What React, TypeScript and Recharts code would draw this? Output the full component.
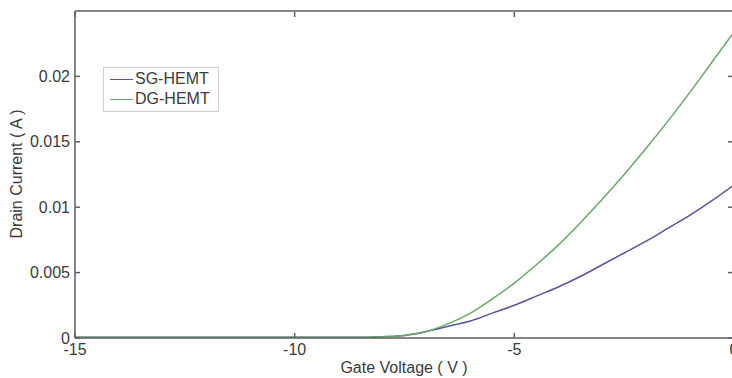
import React from "react";
import { LineChart, Line, XAxis, YAxis, Label, ReferenceLine } from "recharts";

const FONT = "'Liberation Sans', Arial, sans-serif";
const AXIS = "#5e5e5e";
const TEXT = "#3a3a3a";
const SG_COLOR = "#55559f";
const DG_COLOR = "#66a866";

// gate voltage (V)
const VG = [
  -15, -14.5, -14, -13.5, -13, -12.5, -12, -11.5, -11, -10.5, -10, -9.5, -9, -8.5,
  -8, -7.5, -7, -6.5, -6, -5.5, -5, -4.5, -4, -3.5, -3, -2.5, -2, -1.5, -1, -0.5, 0,
];
// drain current (A)
const SG = [
  0.00005, 0.00005, 0.00005, 0.00005, 0.00005, 0.00005, 0.00005, 0.00005, 0.00005, 0.00005,
  0.00005, 0.00005, 0.00005, 0.00005,
  0.0001, 0.0002, 0.0005, 0.0009, 0.0013, 0.0019, 0.0025, 0.0032, 0.0039, 0.0047, 0.0056,
  0.0065, 0.0074, 0.0084, 0.0094, 0.0105, 0.0117,
];
const DG = [
  0.00005, 0.00005, 0.00005, 0.00005, 0.00005, 0.00005, 0.00005, 0.00005, 0.00005, 0.00005,
  0.00005, 0.00005, 0.00005, 0.00005,
  0.0001, 0.0002, 0.0005, 0.0011, 0.0019, 0.003, 0.0042, 0.0056, 0.0071, 0.0088, 0.0106,
  0.0125, 0.0145, 0.0166, 0.0188, 0.0211, 0.0234,
];
const X_TICKS = [-15, -10, -5, 0];
const Y_TICKS = [0, 0.005, 0.01, 0.015, 0.02];
const Y_MAX = 0.025;
const SERIES = [
  { key: "sg", name: "SG-HEMT", color: SG_COLOR },
  { key: "dg", name: "DG-HEMT", color: DG_COLOR },
];

const data = VG.map((v, i) => ({ vg: v, sg: SG[i], dg: DG[i] }));

const BottomTick = (props: any) => {
  const { x, y, payload } = props;
  return (
    <g>
      <line x1={x} x2={x} y1={y - 6} y2={y - 11} stroke={AXIS} strokeWidth={1.5} />
      <text x={x} y={y} dy="0.71em" textAnchor="middle" fill={TEXT} fontSize={16} fontFamily={FONT}>
        {payload.value}
      </text>
    </g>
  );
};

const LeftTick = (props: any) => {
  const { x, y, payload } = props;
  return (
    <g>
      <line x1={x + 5} x2={x + 10} y1={y} y2={y} stroke={AXIS} strokeWidth={1.5} />
      <text x={x} y={y} dy="0.35em" textAnchor="end" fill={TEXT} fontSize={16} fontFamily={FONT}>
        {payload.value}
      </text>
    </g>
  );
};

const TopTick = (props: any) => {
  const { x, y } = props;
  return <line x1={x} x2={x} y1={y + 1} y2={y + 6} stroke={AXIS} strokeWidth={1.5} />;
};

const RightTick = (props: any) => {
  const { x, y } = props;
  return <line x1={x} x2={x - 6} y1={y} y2={y} stroke={AXIS} strokeWidth={1.5} />;
};

export default function App() {
  return (
    <div style={{ position: "absolute", left: 0, top: 0, width: 732, height: 378, overflow: "hidden", background: "#fff" }}>
      <LineChart width={742} height={378} data={data} margin={{ top: 10, right: 7, bottom: 0, left: 0 }}>
        <XAxis
          dataKey="vg"
          type="number"
          domain={[-15, 0]}
          ticks={X_TICKS}
          allowDataOverflow
          height={40}
          tickSize={0}
          tickMargin={6}
          tick={<BottomTick />}
          axisLine={{ stroke: AXIS, strokeWidth: 1.5 }}
        >
          <Label
            content={() => (
              <text x={404} y={373} textAnchor="middle" fill={TEXT} fontSize={16} fontFamily={FONT}>
                Gate Voltage ( V )
              </text>
            )}
          />
        </XAxis>
        <XAxis
          xAxisId="top"
          dataKey="vg"
          orientation="top"
          type="number"
          domain={[-15, 0]}
          ticks={X_TICKS}
          allowDataOverflow
          height={1}
          tickSize={0}
          tickMargin={0}
          tick={<TopTick />}
          axisLine={false}
        />
        <YAxis
          type="number"
          domain={[0, Y_MAX]}
          ticks={Y_TICKS}
          allowDataOverflow
          width={75}
          tickSize={0}
          tickMargin={5}
          tick={<LeftTick />}
          axisLine={{ stroke: AXIS, strokeWidth: 1.5 }}
        >
          <Label
            content={() => (
              <text
                transform="translate(22,174) rotate(-90)"
                textAnchor="middle"
                fill={TEXT}
                fontSize={16}
                fontFamily={FONT}
              >
                Drain Current ( A )
              </text>
            )}
          />
        </YAxis>
        <YAxis
          yAxisId="right"
          orientation="right"
          type="number"
          domain={[0, Y_MAX]}
          ticks={Y_TICKS}
          allowDataOverflow
          width={1}
          tickSize={0}
          tickMargin={0}
          tick={<RightTick />}
          axisLine={false}
        />
        <ReferenceLine y={Y_MAX} stroke={AXIS} strokeWidth={1.5} ifOverflow="visible" />
        <ReferenceLine x={0} stroke={AXIS} strokeWidth={1.5} ifOverflow="visible" />
        <Line
          dataKey="sg"
          name="SG-HEMT"
          type="monotone"
          stroke={SG_COLOR}
          strokeWidth={1.5}
          dot={false}
          isAnimationActive={false}
        />
        <Line
          dataKey="dg"
          name="DG-HEMT"
          xAxisId="top"
          yAxisId="right"
          type="monotone"
          stroke={DG_COLOR}
          strokeWidth={1.5}
          dot={false}
          isAnimationActive={false}
        />
      </LineChart>
      <div
        style={{
          position: "absolute",
          left: 103,
          top: 67,
          border: "1px solid #cfcfcf",
          background: "#fff",
          padding: "1px 8px 2px 6px",
          fontFamily: FONT,
          fontSize: 16,
          color: TEXT,
          lineHeight: "20px",
          whiteSpace: "nowrap",
        }}
      >
        {SERIES.map((it) => (
          <div key={it.key} style={{ display: "flex", alignItems: "center" }}>
            <span
              style={{ display: "inline-block", width: 23, height: 0, borderTop: `1.5px solid ${it.color}`, marginRight: 2 }}
            />
            <span>{it.name}</span>
          </div>
        ))}
      </div>
    </div>
  );
}
